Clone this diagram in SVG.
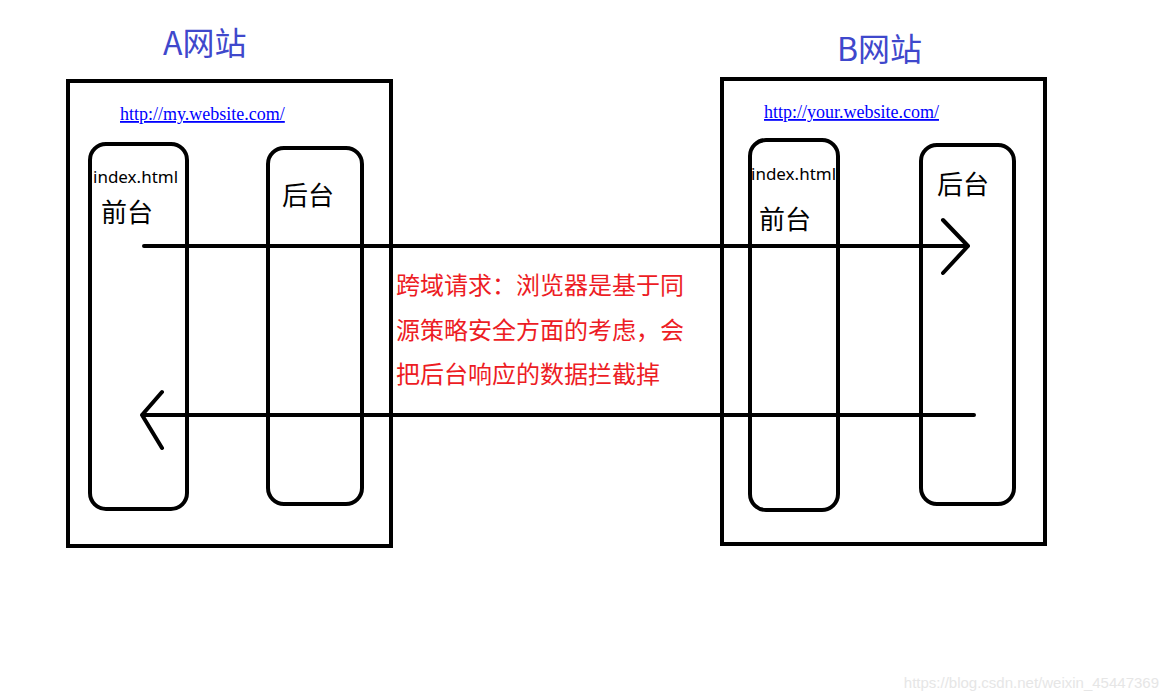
<svg xmlns="http://www.w3.org/2000/svg" width="1168" height="699" viewBox="0 0 1168 699">
<style>
.box{fill:none;stroke:#000;stroke-width:4}
.ln{fill:none;stroke:#000;stroke-width:4;stroke-linecap:round;stroke-linejoin:round}
.title{font-family:"Noto Sans CJK SC",sans-serif;font-size:32px;fill:#3f48cc}
.url{font-family:"Liberation Serif",serif;font-size:18px;fill:#0000ff;text-decoration:underline}
.idx{font-family:"Noto Sans",sans-serif;font-size:17px;fill:#000}
.zh{font-family:"Noto Sans CJK SC",sans-serif;font-size:26px;fill:#000}
.red{font-family:"Noto Sans CJK SC",sans-serif;font-size:24px;fill:#ed1c24}
</style>
<rect width="1168" height="699" fill="#fff"/>
<g id="siteA">
<text class="title" x="163" y="55">A网站</text>
<rect class="box" x="68" y="81" width="323" height="465"/>
<text class="url" x="120" y="120">http://my.website.com/</text>
</g>
<g id="frontA">
<rect class="box" x="90" y="144" width="97" height="365" rx="16"/>
<text class="idx" x="93" y="183">index.html</text>
<text class="zh" x="101" y="222">前台</text>
</g>
<g id="backA">
<rect class="box" x="268" y="148" width="94" height="356" rx="16"/>
<text class="zh" x="282" y="205">后台</text>
</g>
<g id="siteB">
<text class="title" x="837" y="61">B网站</text>
<rect class="box" x="722" y="79" width="323" height="465"/>
<text class="url" x="764" y="118">http://your.website.com/</text>
</g>
<g id="frontB">
<rect class="box" x="750" y="140" width="88" height="370" rx="16"/>
<text class="idx" x="751" y="180">index.html</text>
<text class="zh" x="759" y="229">前台</text>
</g>
<g id="backB">
<rect class="box" x="921" y="145" width="93" height="359" rx="16"/>
<text class="zh" x="937" y="194">后台</text>
</g>
<g id="connectors">
<path class="ln" d="M144 246 H968 M943 220 L968 246 L943 273"/>
<path class="ln" d="M974 415 H142 M162 392 L142 415 L162 448"/>
</g>
<g id="note">
<text class="red" x="396" y="294">跨域请求：浏览器是基于同</text>
<text class="red" x="396" y="339">源策略安全方面的考虑，会</text>
<text class="red" x="396" y="383">把后台响应的数据拦截掉</text>
</g>
<text x="1159" y="688" text-anchor="end" font-family="Liberation Sans,sans-serif" font-size="15" fill="#e6e6e6">https://blog.csdn.net/weixin_45447369</text>
</svg>
